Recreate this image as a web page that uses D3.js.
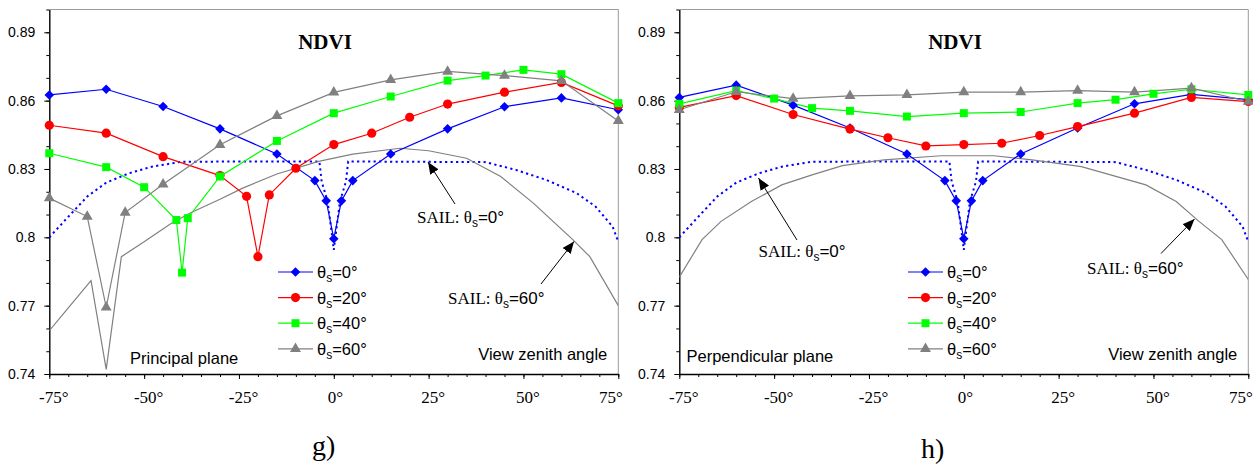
<!DOCTYPE html>
<html><head><meta charset="utf-8">
<script src="https://cdn.jsdelivr.net/npm/d3@7"></script>
<style>body{margin:0;background:#fff} svg{display:block}</style>
</head><body><svg id="c" width="1253" height="470"></svg>
<script>
// ---------- DATA ----------
const yTicks = [0.74, 0.77, 0.80, 0.83, 0.86, 0.89];
const yTickLabels = ['0.74', '0.77', '0.8', '0.83', '0.86', '0.89'];
const xTicks = [-75, -50, -25, 0, 25, 50, 75];
const xTickLabels = ['-75°', '-50°', '-25°', '0°', '25°', '50°', '75°'];
const seriesNames = ['0°', '20°', '40°', '60°'];

// Principal plane (g)
const pp0Angles = [-75, -60, -45, -30, -15, -5, -2, 0, 2, 5, 15, 30, 45, 60, 75];
const pp0Vals = [0.8625, 0.865, 0.8574, 0.8476, 0.8366, 0.8249, 0.816, 0.7994, 0.816, 0.8249, 0.8366, 0.8476, 0.8573, 0.8612, 0.856];
const pp20Angles = [-75, -60, -45, -30, -23, -20, -17, -10, 0, 10, 20, 30, 45, 60, 75];
const pp20Vals = [0.8492, 0.8457, 0.8354, 0.8271, 0.818, 0.7915, 0.8186, 0.8303, 0.8407, 0.8457, 0.8527, 0.8585, 0.8637, 0.868, 0.8577];
const pp40Angles = [-75, -60, -50, -41.5, -40, -38.5, -30, -15, 0, 15, 30, 40, 50, 60, 75];
const pp40Vals = [0.8369, 0.8308, 0.822, 0.8076, 0.7845, 0.8084, 0.8267, 0.8423, 0.8545, 0.8618, 0.8688, 0.871, 0.8735, 0.8716, 0.8589];
const pp60Angles = [-75, -65, -60, -55, -45, -30, -15, 0, 15, 30, 45, 60, 75];
const pp60Vals = [0.8172, 0.8091, 0.7693, 0.8109, 0.8233, 0.8406, 0.8533, 0.8636, 0.8691, 0.8728, 0.871, 0.8687, 0.8511];

// Perpendicular plane (h)
const cp0Angles = [-75, -60, -45, -30, -15, -5, -2, 0, 2, 5, 15, 30, 45, 60, 75];
const cp0Vals = [0.8614, 0.8668, 0.858, 0.848, 0.8366, 0.8249, 0.816, 0.7994, 0.816, 0.8249, 0.8366, 0.848, 0.8586, 0.8627, 0.8604];
const cp20Angles = [-75, -60, -45, -30, -20, -10, 0, 10, 20, 30, 45, 60, 75];
const cp20Vals = [0.857, 0.8622, 0.8539, 0.8475, 0.8437, 0.8401, 0.8407, 0.8413, 0.8447, 0.8486, 0.8545, 0.8614, 0.8596];
const cp40Angles = [-75, -60, -50, -40, -30, -15, 0, 15, 30, 40, 50, 60, 75];
const cp40Vals = [0.8586, 0.8644, 0.8609, 0.8567, 0.8555, 0.853, 0.8545, 0.855, 0.8589, 0.8604, 0.863, 0.865, 0.8625];
const cp60Angles = [-75, -60, -45, -30, -15, 0, 15, 30, 45, 60, 75];
const cp60Vals = [0.856, 0.8639, 0.8609, 0.8621, 0.8625, 0.8637, 0.8637, 0.8644, 0.8637, 0.8655, 0.8596];

// SAIL model curves
const sail0Angles = [-75, -70, -65, -60, -54, -48, -40, -3.8, -3.2, -1.6, -0.6, 0, 0.6, 1.6, 3.2, 3.8, 40, 48, 56, 64, 69, 73.5, 75];
const sail0Vals = [0.800, 0.809, 0.8179, 0.824, 0.8281, 0.831, 0.8332, 0.8333, 0.8245, 0.8155, 0.8025, 0.7945, 0.8025, 0.8155, 0.8245, 0.8333, 0.8330, 0.8296, 0.8252, 0.8194, 0.8135, 0.8047, 0.798];
const sail60ppAngles = [-75, -70, -64, -60, -56, -50, -43, -38, -30, -24, -15, -4, 5, 17.5, 25, 35, 44, 52.6, 63, 67.5, 75];
const sail60ppVals = [0.759, 0.769, 0.781, 0.742, 0.7915, 0.798, 0.806, 0.8106, 0.8167, 0.8216, 0.8278, 0.8333, 0.8365, 0.8391, 0.838, 0.8347, 0.8267, 0.815, 0.799, 0.7915, 0.770];
const sail60cpAngles = [-75, -69, -64, -56, -48, -40, -32, -21, -6, 8, 18, 31, 48, 56, 62, 68, 75];
const sail60cpVals = [0.7825, 0.799, 0.807, 0.8157, 0.823, 0.8274, 0.8315, 0.834, 0.8358, 0.8358, 0.834, 0.831, 0.823, 0.8157, 0.807, 0.799, 0.7815];

// ---------- STYLE ----------
const colors = ['#0000ff', '#ff0000', '#00ff00', '#808080'];
const symbols = [
  {type: d3.symbolSquare, size: 46, rot: 45},
  {type: d3.symbolCircle, size: 66, rot: 0},
  {type: d3.symbolSquare, size: 64, rot: 0},
  {type: d3.symbolTriangle, size: 52, rot: 0}
];
const SANS = 'Liberation Sans, Arial, sans-serif';
const SERIF = 'Liberation Serif, Times New Roman, serif';

const zip = (a, v) => a.map((d, i) => [d, v[i]]);

const svg = d3.select('#c');
svg.append('rect').attr('width', 1253).attr('height', 470).attr('fill', '#fff');
const defs = svg.append('defs');
defs.append('marker').attr('id', 'arr').attr('viewBox', '0 0 12 10')
  .attr('refX', 12).attr('refY', 5).attr('markerWidth', 12).attr('markerHeight', 10)
  .attr('markerUnits', 'userSpaceOnUse').attr('orient', 'auto')
  .append('path').attr('d', 'M0,0 L12,5 L0,10 Z').attr('fill', '#000');

function panel(cfg) {
  const top = 9.5, bottom = 374;
  const x = d3.scaleLinear([-75, 75], [cfg.left, cfg.right]);
  const y = d3.scaleLinear([0.74, 0.90], [bottom, top]);
  const g = svg.append('g');
  const clipId = 'clip' + cfg.id;
  defs.append('clipPath').attr('id', clipId).append('rect')
    .attr('x', cfg.left).attr('y', top).attr('width', cfg.right - cfg.left).attr('height', bottom - top);

  // frame
  g.append('line').attr('x1', cfg.left).attr('x2', cfg.right).attr('y1', top).attr('y2', top).attr('stroke', '#9a9a9a').attr('stroke-width', 1);
  g.append('line').attr('x1', cfg.right).attr('x2', cfg.right).attr('y1', top).attr('y2', bottom).attr('stroke', '#9a9a9a').attr('stroke-width', 1);

  // axes
  const minorY = d3.range(17).map(i => 0.74 + i * 0.01).filter(v => v <= 0.9001);
  const minorX = d3.range(31).map(i => -75 + i * 5);
  g.append('g').attr('transform', `translate(${cfg.left},0)`)
    .call(d3.axisLeft(y).tickValues(minorY).tickSize(3).tickFormat(''))
    .call(s => s.select('.domain').remove())
    .selectAll('line').attr('stroke', '#000');
  g.append('g').attr('transform', `translate(0,${bottom})`)
    .call(d3.axisBottom(x).tickValues(minorX).tickSize(3).tickFormat(''))
    .call(s => s.select('.domain').remove())
    .selectAll('line').attr('stroke', '#000');

  const ya = g.append('g').attr('transform', `translate(${cfg.left},0)`)
    .call(d3.axisLeft(y).tickValues(yTicks).tickSize(5).tickPadding(9).tickSizeOuter(0)
      .tickFormat((d, i) => yTickLabels[i]));
  ya.select('.domain').attr('stroke', '#000').attr('stroke-width', 1.4);
  ya.selectAll('text').attr('font-family', SANS).attr('font-size', 14).attr('fill', '#000');

  const xa = g.append('g').attr('transform', `translate(0,${bottom})`)
    .call(d3.axisBottom(x).tickValues(xTicks).tickSize(5).tickPadding(12).tickSizeOuter(0)
      .tickFormat((d, i) => xTickLabels[i]));
  xa.select('.domain').attr('stroke', '#000').attr('stroke-width', 1.4);
  xa.selectAll('text').attr('font-family', SERIF).attr('font-size', 17).attr('fill', '#000')
    .attr('dx', d => d === 75 ? -8 : (d === 0 ? 1 : 4));

  const plot = g.append('g').attr('clip-path', `url(#${clipId})`);
  const line = d3.line().x(d => x(d[0])).y(d => y(d[1]));

  // SAIL curves
  plot.append('path').datum(zip(sail0Angles, sail0Vals)).attr('d', line)
    .attr('fill', 'none').attr('stroke', '#0000ff').attr('stroke-width', 2).attr('stroke-dasharray', '2.2,3.3');
  plot.append('path').datum(cfg.sail60).attr('d', line)
    .attr('fill', 'none').attr('stroke', '#808080').attr('stroke-width', 1.2);

  // measured series
  cfg.series.forEach((s, k) => {
    plot.append('path').datum(s).attr('d', line)
      .attr('fill', 'none').attr('stroke', colors[k]).attr('stroke-width', 1.2);
  });
  cfg.series.forEach((s, k) => {
    const sym = d3.symbol().type(symbols[k].type).size(symbols[k].size);
    g.append('g').selectAll('path').data(s).join('path')
      .attr('d', sym)
      .attr('transform', d => `translate(${x(d[0])},${y(d[1])}) rotate(${symbols[k].rot})`)
      .attr('fill', colors[k]);
  });

  // title
  g.append('text').attr('x', cfg.titleX).attr('y', 49).attr('text-anchor', 'middle')
    .attr('font-family', SERIF).attr('font-weight', 'bold').attr('font-size', 21).text('NDVI');

  // legend
  seriesNames.forEach((nm, k) => {
    const ly = 272 + k * 25.6;
    const lx = cfg.legendX;
    g.append('line').attr('x1', lx).attr('x2', lx + 35).attr('y1', ly).attr('y2', ly)
      .attr('stroke', colors[k]).attr('stroke-width', 1.2);
    const sym = d3.symbol().type(symbols[k].type).size(symbols[k].size);
    g.append('path').attr('d', sym).attr('transform', `translate(${lx + 17.5},${ly}) rotate(${symbols[k].rot})`).attr('fill', colors[k]);
    const t = g.append('text').attr('x', lx + 39).attr('y', ly + 6).attr('font-family', SANS).attr('font-size', 16.5).attr('fill', '#000');
    t.append('tspan').text('θ');
    t.append('tspan').attr('font-size', 12).attr('dy', 4).text('s');
    t.append('tspan').attr('dy', -4).text('=' + nm);
  });

  // SAIL annotations
  cfg.notes.forEach(n => {
    g.append('line').attr('x1', n.from[0]).attr('y1', n.from[1]).attr('x2', n.to[0]).attr('y2', n.to[1])
      .attr('stroke', '#000').attr('stroke-width', 1).attr('marker-end', 'url(#arr)');
    const t = g.append('text').attr('x', n.tx).attr('y', n.ty).attr('font-size', 17).attr('fill', '#000');
    t.append('tspan').attr('font-family', SERIF).text('SAIL: θ');
    t.append('tspan').attr('font-family', SANS).attr('font-size', 12).attr('dy', 4).text('s');
    t.append('tspan').attr('font-family', SANS).attr('dy', -4).text('=' + n.label);
  });

  g.append('text').attr('x', cfg.planeX).attr('y', cfg.planeY).attr('font-family', SANS).attr('font-size', 16.5).text(cfg.plane);
  g.append('text').attr('x', cfg.right - 11).attr('y', 359.5).attr('text-anchor', 'end').attr('font-family', SANS).attr('font-size', 16.5).text('View zenith angle');

  g.append('text').attr('x', cfg.capX).attr('y', cfg.capY).attr('font-family', SERIF).attr('font-size', 28).text(cfg.caption);
}

panel({
  id: 'g', left: 49.3, right: 618.3, titleX: 325, legendX: 278,
  series: [zip(pp0Angles, pp0Vals), zip(pp20Angles, pp20Vals), zip(pp40Angles, pp40Vals), zip(pp60Angles, pp60Vals)],
  sail60: zip(sail60ppAngles, sail60ppVals),
  notes: [
    {from: [455, 204], to: [428, 162], tx: 417, ty: 222.5, label: '0°'},
    {from: [541, 284], to: [574, 241.5], tx: 448, ty: 303.5, label: '60°'}
  ],
  plane: 'Principal plane', planeX: 130, planeY: 364,
  caption: 'g)', capX: 312, capY: 455
});

panel({
  id: 'h', left: 679.3, right: 1248.3, titleX: 955, legendX: 908,
  series: [zip(cp0Angles, cp0Vals), zip(cp20Angles, cp20Vals), zip(cp40Angles, cp40Vals), zip(cp60Angles, cp60Vals)],
  sail60: zip(sail60cpAngles, sail60cpVals),
  notes: [
    {from: [797, 240], to: [758.5, 178], tx: 758.5, ty: 256.5, label: '0°'},
    {from: [1161, 253.5], to: [1194.5, 219], tx: 1087, ty: 273.5, label: '60°'}
  ],
  plane: 'Perpendicular plane', planeX: 686.5, planeY: 361.5,
  caption: 'h)', capX: 921, capY: 458
});
</script>
</body></html>
